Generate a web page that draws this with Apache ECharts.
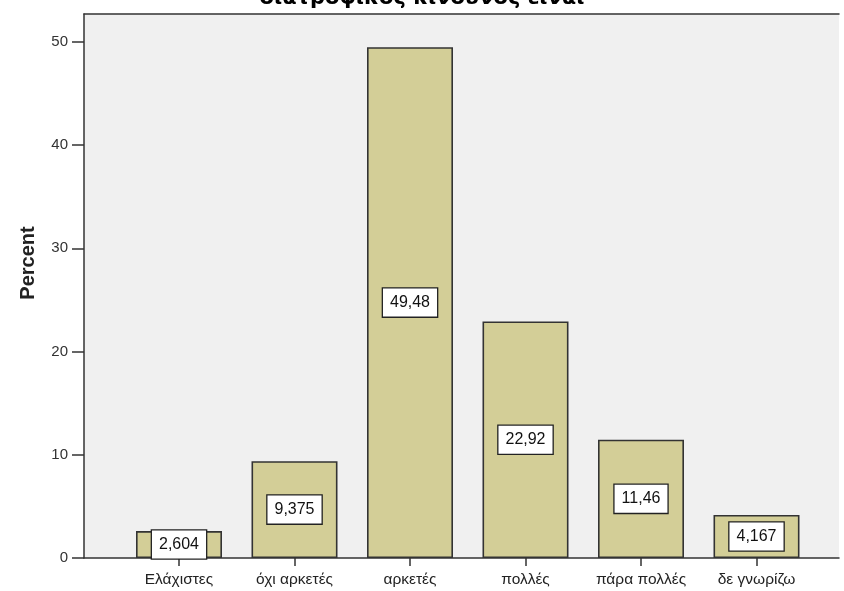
<!DOCTYPE html>
<html>
<head>
<meta charset="utf-8">
<script src="https://cdn.jsdelivr.net/npm/echarts@6/dist/echarts.min.js"></script>
<style>
  html, body { margin: 0; padding: 0; background: #ffffff; }
  #chart { width: 844px; height: 591px; }
</style>
</head>
<body>
<div id="chart"></div>
<script>
// Frequency percentages per answer category
const categories = ['Ελάχιστες', 'όχι αρκετές', 'αρκετές', 'πολλές', 'πάρα πολλές', 'δε γνωρίζω'];
const percentValues = [2.604, 9.375, 49.48, 22.92, 11.46, 4.167];
const yTickValues = [0, 10, 20, 30, 40, 50];
const chartTitle = 'διατροφικός κίνδυνος είναι';
const yAxisTitle = 'Percent';

const FONT = '"Liberation Sans", Arial, sans-serif';
const Y_MAX = 52.7;

// Greek-style decimal comma for the value boxes
const fmt = v => String(v).replace('.', ',');

const chart = echarts.init(document.getElementById('chart'), null, { renderer: 'canvas' });

chart.setOption({
  animation: false,
  backgroundColor: '#ffffff',
  title: {
    text: chartTitle,
    left: 'center',
    top: -17,
    textStyle: { fontFamily: '"DejaVu Sans", Verdana, sans-serif', fontSize: 21, fontWeight: 'bold', color: '#000' }
  },
  graphic: [{
    type: 'text',
    x: 28,
    y: 263,
    rotation: Math.PI / 2,
    style: {
      text: yAxisTitle,
      align: 'center',
      verticalAlign: 'middle',
      fontFamily: FONT,
      fontSize: 20,
      fontWeight: 'bold',
      fill: '#222'
    }
  }],
  grid: [
    // frame with the grey plotting background
    { left: 84, right: 5, top: 14, bottom: 33, show: true, backgroundColor: '#f0f0f0', borderWidth: 0 },
    // inner band where the bars sit
    { left: 121.25, right: 29.75, top: 14, bottom: 33 }
  ],
  xAxis: [
    {
      gridIndex: 0, type: 'value', min: 0, max: 1, position: 'bottom',
      axisLine: { show: true, lineStyle: { color: '#333', width: 1.5 } },
      axisTick: { show: false }, axisLabel: { show: false }, splitLine: { show: false }
    },
    {
      gridIndex: 0, type: 'value', min: 0, max: 1, position: 'top',
      axisLine: { show: true, lineStyle: { color: '#333', width: 1.5 } },
      axisTick: { show: false }, axisLabel: { show: false }, splitLine: { show: false }
    },
    {
      gridIndex: 1, type: 'category', data: categories, position: 'bottom',
      axisLine: { show: false },
      axisTick: { show: true, alignWithLabel: true, interval: 0, length: 8, lineStyle: { color: '#333', width: 1.5 } },
      axisLabel: { fontFamily: FONT, fontSize: 15.5, color: '#222', margin: 14, interval: 0, hideOverlap: false },
      splitLine: { show: false }
    }
  ],
  yAxis: [
    {
      gridIndex: 0, type: 'value', min: 0, max: Y_MAX,
      axisLine: { show: true, lineStyle: { color: '#333', width: 1.5 } },
      axisTick: { show: true, length: 12, customValues: yTickValues, lineStyle: { color: '#333', width: 1.5 } },
      axisLabel: { fontFamily: FONT, fontSize: 15, color: '#333', margin: 16, customValues: yTickValues },
      splitLine: { show: false }
    },
    {
      gridIndex: 1, type: 'value', min: 0, max: Y_MAX, show: false
    }
  ],
  series: [{
    type: 'bar',
    xAxisIndex: 2,
    yAxisIndex: 1,
    data: percentValues,
    barWidth: 86,
    itemStyle: { color: '#d3ce97', borderColor: '#333', borderWidth: 1.6 },
    label: {
      show: true,
      position: 'inside',
      formatter: p => fmt(p.value),
      fontFamily: FONT,
      fontSize: 16,
      color: '#111',
      backgroundColor: '#ffffff',
      borderColor: '#222',
      borderWidth: 1.3,
      padding: [7, 7, 5, 7]
    }
  }]
});
</script>
</body>
</html>
